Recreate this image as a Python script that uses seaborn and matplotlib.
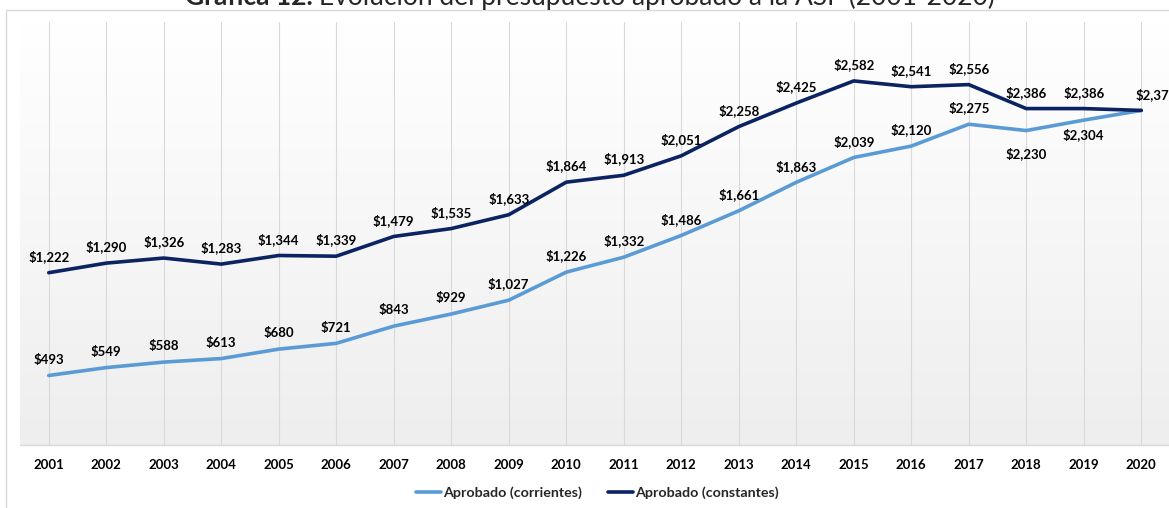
import numpy as np
import pandas as pd
import matplotlib
matplotlib.use("Agg")
import matplotlib.pyplot as plt
from matplotlib.patches import Rectangle
from matplotlib.lines import Line2D
from matplotlib.colors import LinearSegmentedColormap
import seaborn as sns

# Presupuesto aprobado a la ASF, millones de pesos
years = list(range(2001, 2021))
corrientes = [493, 549, 588, 613, 680, 721, 843, 929, 1027, 1226,
              1332, 1486, 1661, 1863, 2039, 2120, 2275, 2230, 2304, 2373]
constantes = [1222, 1290, 1326, 1283, 1344, 1339, 1479, 1535, 1633, 1864,
              1913, 2051, 2258, 2425, 2582, 2541, 2556, 2386, 2386, 2373]
series_names = ["Aprobado (corrientes)", "Aprobado (constantes)"]
colors = ["#5B9BD5", "#0B2461"]

df = pd.DataFrame({
    "pos": list(range(len(years))) * 2,
    "valor": corrientes + constantes,
    "serie": [series_names[0]] * len(years) + [series_names[1]] * len(years),
})

sns.set_theme(style="white")
plt.rcParams["font.family"] = ["Lato", "DejaVu Sans"]

W, H = 1169, 508
fig = plt.figure(figsize=(W / 100, H / 100), dpi=100)

# outer chart frame
fig.patches.append(Rectangle((6 / W, -0.1), 1.2, (H - 10.5) / H + 0.1,
                             transform=fig.transFigure, fill=False,
                             edgecolor="#d9d9d9", linewidth=1.0, zorder=0))

ax = fig.add_axes([20 / W, 63 / H, 1150 / W, 423 / H])
n = len(years)
ax.set_xlim(-0.5, n - 0.5)
ax.set_ylim(0, 3000)

# soft vertical gradient behind the plot (white on top, light grey below)
ax.imshow(np.linspace(0, 1, 256).reshape(-1, 1), extent=(-0.5, n - 0.5, 0, 3000),
          aspect="auto", origin="lower",
          cmap=LinearSegmentedColormap.from_list("bg", ["#eeeeee", "#ffffff"]),
          zorder=0)

for i in range(n):
    ax.axvline(i, color="#d9d9d9", linewidth=0.8, zorder=1)

sns.lineplot(data=df, x="pos", y="valor", hue="serie", palette=colors,
             linewidth=2.6, ax=ax, legend=False, zorder=3)

for s in ["top", "right", "left"]:
    ax.spines[s].set_visible(False)
ax.spines["bottom"].set_color("#d9d9d9")
ax.spines["bottom"].set_linewidth(1.0)

ax.set_xticks(range(n))
ax.set_xticklabels([str(y) for y in years], fontweight="bold", fontsize=9.5,
                   color="#000000")
ax.tick_params(axis="x", length=0, pad=10)
ax.set_yticks([])
ax.set_xlabel("")
ax.set_ylabel("")

label_kw = dict(textcoords="offset points", ha="center", fontsize=9.5,
                fontweight="bold", color="#000000", zorder=5,
                annotation_clip=False)

# value labels, constant pesos
for i, v in enumerate(constantes):
    dx = 11 if i == n - 1 else 0
    ax.annotate(f"${v:,}", (i, v), xytext=(dx, 7), va="bottom", **label_kw)

# value labels, current pesos (last point shares the constant label)
below = {17: 12, 18: 6}
for i, v in enumerate(corrientes[:-1]):
    if i in below:
        ax.annotate(f"${v:,}", (i, v), xytext=(0, -below[i]), va="top",
                    **label_kw)
    else:
        ax.annotate(f"${v:,}", (i, v), xytext=(0, 7), va="bottom", **label_kw)

handles = [Line2D([0], [0], color=c, linewidth=2.6) for c in colors]
fig.legend(handles, series_names, loc="center", bbox_to_anchor=(597 / W, 1 - 493 / H),
           ncol=2, frameon=False, handlelength=1.8, handletextpad=0.1,
           columnspacing=1.8, prop={"weight": "bold", "size": 10.3})

t1 = fig.text(185 / W, 1 - 5 / H, "Gráfica 12.", fontweight="bold",
              fontsize=19, ha="left", va="baseline")
fig.canvas.draw()
bb = t1.get_window_extent()
fig.text((bb.x1 + 6) / W, 1 - 5 / H,
         "Evolución del presupuesto aprobado a la ASF (2001-2020)",
         fontsize=19, ha="left", va="baseline")

fig.savefig("out.png", dpi=100)
